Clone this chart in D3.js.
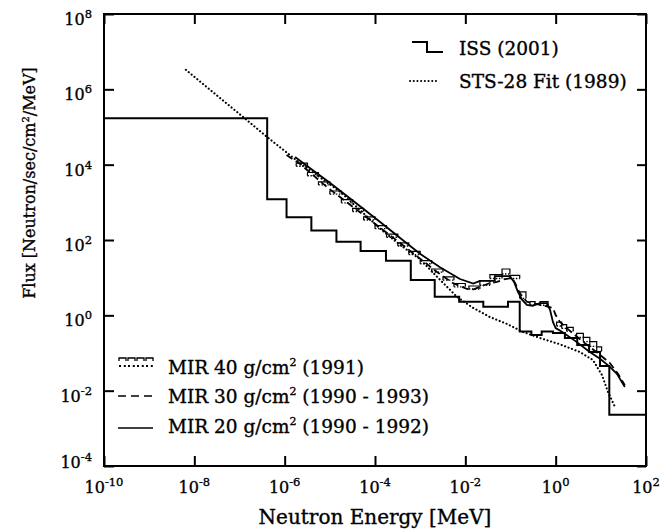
<!DOCTYPE html>
<html>
<head>
<meta charset="utf-8">
<script src="https://cdn.jsdelivr.net/npm/d3@7"></script>
<style>
  body { margin: 0; background: #fff; }
  text { font-family: "DejaVu Serif", serif; fill: #000; stroke: #000; stroke-width: 0.35px; }
</style>
</head>
<body>
<div id="chart"></div>
<script>
// tick labels (powers of ten)
const xTickExps = [-10, -8, -6, -4, -2, 0, 2];
const yTickExps = [-4, -2, 0, 2, 4, 6, 8];

// ISS (2001) histogram: bin edges [MeV] and flux per bin
const issEdges = [1e-10, 4.1e-7, 1.1e-6, 3.9e-6, 1.4e-5, 4.8e-5, 1.75e-4, 6.2e-4, 2.1e-3, 7.3e-3,
  2.5e-2, 8.8e-2, 0.16, 0.29, 0.49, 0.87, 1.6, 3.0, 5.5, 9.6, 15.4, 100];
const issFlux = [1.7e5, 1.2e3, 4.0e2, 1.8e2, 90, 51, 28, 8.7, 3.1, 2.3,
  1.7, 2.3, 0.37, 0.30, 0.37, 0.34, 0.25, 0.163, 0.106, 0.045, 2.3e-3];

// STS-28 fit (1989)
const stsEnergy = [6.5e-9, 3.7e-8, 1.2e-7, 4.1e-7, 2.2e-6, 1.7e-5, 1.3e-4, 3.6e-4, 9.9e-4, 2.4e-3,
  6.5e-3, 1.5e-2, 3.5e-2, 8.4e-2, 0.19, 0.45, 1.24, 3.45, 6.7, 10.6, 14.4, 20.6];
const stsFlux = [3.3e6, 5.9e5, 1.85e5, 5.4e4, 1.1e4, 1.9e3, 2.0e2, 74, 31, 10.4,
  3.1, 1.57, 0.90, 0.59, 0.36, 0.25, 0.17, 0.106, 0.065, 0.026, 9.2e-3, 3.7e-3];

// MIR 20 g/cm2 (1990 - 1992)
const mir20Energy = [1.7e-6, 3.6e-6, 1.0e-5, 3.6e-5, 1.3e-4, 3.6e-4, 9.9e-4, 2.75e-3, 7.6e-3, 1.5e-2,
  2.1e-2, 0.045, 0.045, 0.097, 0.12, 0.146, 0.18, 0.23, 0.31, 0.45,
  0.64, 0.75, 0.87, 1.0, 1.4, 2.7, 5.7, 9.6, 15.9, 22.7, 34];
const mir20Flux = [1.6e4, 8.2e3, 3.3e3, 1.0e3, 3.0e2, 1.13e2, 43, 19, 9.2, 7.0,
  8.2, 8.2, 11, 11, 7.7, 4.2, 2.6, 1.9, 1.8, 2.1,
  2.1, 1.4, 0.67, 0.46, 0.36, 0.21, 0.106, 0.070, 0.043, 0.028, 0.0125];

// MIR 30 g/cm2 (1990 - 1993)
const mir30Energy = [1.1e-6, 2.2e-6, 8.6e-6, 4.6e-5, 3.6e-4, 2.4e-3, 5.3e-3, 7.6e-3, 1.09e-2, 1.4e-2,
  2.1e-2, 3.5e-2, 5.0e-2, 7.5e-2, 0.108, 0.126, 0.16, 0.23, 0.45, 0.87,
  1.0, 1.24, 2.1, 4.5, 9.6, 15.9, 24, 34];
const mir30Flux = [1.8e4, 1.04e4, 2.55e3, 5.5e2, 83, 14, 7.2, 6.0, 5.0, 4.7,
  5.7, 7.2, 7.7, 9.2, 9.8, 7.2, 3.9, 2.3, 1.9, 1.57,
  1.02, 0.67, 0.38, 0.18, 0.089, 0.054, 0.028, 0.014];

// MIR 40 g/cm2 (1991): error boxes, energy bin low/high and flux min/max
const mir40ELow = [1.8e-6, 3.2e-6, 5.6e-6, 1e-5, 1.8e-5, 3.2e-5, 5.6e-5, 1e-4, 1.8e-4, 3.2e-4,
  5.6e-4, 1e-3, 1.8e-3, 3.2e-3, 5.6e-3, 1.2e-2, 2.1e-2, 3.5e-2, 6.5e-2, 0.097,
  0.16, 0.27, 0.45, 1.05, 1.36, 1.75, 2.9, 4.1, 5.7, 8.1];
const mir40EHigh = [3.2e-6, 5.6e-6, 1e-5, 1.8e-5, 3.2e-5, 5.6e-5, 1e-4, 1.8e-4, 3.2e-4, 5.6e-4,
  1e-3, 1.8e-3, 3.2e-3, 5.6e-3, 1e-2, 2.1e-2, 3.5e-2, 6.5e-2, 0.097, 0.16,
  0.22, 0.35, 0.68, 1.36, 1.75, 2.45, 4.1, 5.7, 8.1, 10.4];
const mir40FMin = [9.1e3, 5.1e3, 2.9e3, 1.65e3, 970, 570, 340, 200, 118, 69,
  41, 23.5, 14, 8.6, 5.7, 5.0, 6.3, 9.5, 12.5, 9.5,
  2.8, 1.9, 1.85, 0.52, 0.45, 0.38, 0.26, 0.2, 0.15, 0.11];
const mir40FMax = [1.1e4, 6.2e3, 3.5e3, 2.0e3, 1.18e3, 690, 410, 240, 143, 84,
  50, 28.5, 17, 10.5, 7.0, 6.0, 8.3, 12, 17, 11.5,
  4.2, 2.3, 2.3, 0.66, 0.57, 0.48, 0.33, 0.26, 0.2, 0.145];

const width = 664, height = 531;
const margin = {top: 14, right: 18, bottom: 65, left: 104};

const svg = d3.select('#chart').append('svg')
  .attr('width', width)
  .attr('height', height);

const x = d3.scaleLog().domain([1e-10, 1e2]).range([margin.left, width - margin.right]);
const y = d3.scaleLog().domain([1e-4, 1e8]).range([height - margin.bottom, margin.top]);

const xTickVals = xTickExps.map(e => Math.pow(10, e));
const yTickVals = yTickExps.map(e => Math.pow(10, e));

// axes: inward ticks on all four sides
function addAxis(axis, transform) {
  svg.append('g')
    .attr('transform', transform)
    .call(axis)
    .call(g => g.select('.domain').remove())
    .call(g => g.selectAll('.tick line').attr('stroke', '#000').attr('stroke-width', 2))
    .call(g => g.selectAll('.tick text').remove());
}
addAxis(d3.axisBottom(x).tickValues(xTickVals).tickSize(-10), `translate(0,${y.range()[0]})`);
addAxis(d3.axisTop(x).tickValues(xTickVals).tickSize(-10), `translate(0,${y.range()[1]})`);
addAxis(d3.axisLeft(y).tickValues(yTickVals).tickSize(-10), `translate(${x.range()[0]},0)`);
addAxis(d3.axisRight(y).tickValues(yTickVals).tickSize(-9), `translate(${x.range()[1]},0)`);

svg.append('rect')
  .attr('x', x.range()[0])
  .attr('y', y.range()[1])
  .attr('width', x.range()[1] - x.range()[0])
  .attr('height', y.range()[0] - y.range()[1])
  .attr('fill', 'none')
  .attr('stroke', '#000')
  .attr('stroke-width', 2);

// tick labels with superscript exponents
function powerLabel(sel, e, size, supSize, raise) {
  sel.append('tspan').attr('font-size', size).text('10');
  sel.append('tspan').attr('font-size', supSize).attr('dy', -raise).text(e);
}

svg.append('g').selectAll('text')
  .data(xTickExps)
  .join('text')
  .attr('x', d => x(Math.pow(10, d)))
  .attr('y', 493)
  .attr('text-anchor', 'middle')
  .each(function(d) { powerLabel(d3.select(this), d, 16, 11.5, 7); });

svg.append('g').selectAll('text')
  .data(yTickExps)
  .join('text')
  .attr('x', 92)
  .attr('y', d => d === yTickExps[0] ? y(Math.pow(10, d)) + 2 : y(Math.pow(10, d)) + 11)
  .attr('text-anchor', 'end')
  .each(function(d) { powerLabel(d3.select(this), d, 16, 11.5, 7); });

// axis titles
svg.append('text')
  .attr('x', (x.range()[0] + x.range()[1]) / 2)
  .attr('y', 524)
  .attr('text-anchor', 'middle')
  .attr('font-size', 20)
  .text('Neutron Energy [MeV]');

const yTitle = svg.append('text')
  .attr('transform', 'translate(35,183) rotate(-90)')
  .attr('text-anchor', 'middle')
  .attr('font-size', 16);
yTitle.append('tspan').text('Flux [Neutron/sec/cm');
yTitle.append('tspan').attr('font-size', 10).attr('dy', -6).text('2');
yTitle.append('tspan').attr('dy', 6).text('/MeV]');

// data
const line = d3.line().x(d => x(d[0])).y(d => y(d[1]));
const plot = svg.append('g').attr('fill', 'none').attr('stroke', '#000');

const issPoints = [];
issFlux.forEach((f, i) => {
  issPoints.push([issEdges[i], f]);
  issPoints.push([issEdges[i + 1], f]);
});
plot.append('path')
  .attr('d', line(issPoints))
  .attr('stroke-width', 2);

plot.append('path')
  .attr('d', line(stsEnergy.map((e, i) => [e, stsFlux[i]])))
  .attr('stroke-width', 2.1)
  .attr('stroke-linecap', 'round')
  .attr('stroke-dasharray', '0.1,3.6');

plot.append('path')
  .attr('d', line(mir20Energy.map((e, i) => [e, mir20Flux[i]])))
  .attr('stroke-width', 1.8);

plot.append('path')
  .attr('d', line(mir30Energy.map((e, i) => [e, mir30Flux[i]])))
  .attr('stroke-width', 1.8)
  .attr('stroke-dasharray', '7,4');

const boxes = mir40ELow.map((e, i) => ({e0: e, e1: mir40EHigh[i], f0: mir40FMin[i], f1: mir40FMax[i]}));
const boxG = plot.append('g').selectAll('g').data(boxes).join('g');
boxG.append('path')
  .attr('d', d => `M${x(d.e0)},${y(d.f0)}V${y(d.f1)}H${x(d.e1)}V${y(d.f0)}`)
  .attr('stroke-width', 1.2);
boxG.append('path')
  .attr('d', d => `M${x(d.e0)},${y(d.f0)}H${x(d.e1)}`)
  .attr('stroke-width', 1.4)
  .attr('stroke-dasharray', '1.4,1.6');

// legends
const legend = svg.append('g').attr('fill', 'none').attr('stroke', '#000');
legend.append('path').attr('d', 'M412,42H427V52H443').attr('stroke-width', 2);
legend.append('path').attr('d', 'M410,81H436').attr('stroke-width', 2)
  .attr('stroke-linecap', 'round').attr('stroke-dasharray', '0.1,3.6');

for (let i = 0; i < 4; i++) {
  const bx = 119 + i * 9;
  legend.append('path').attr('d', `M${bx},361V358H${bx + 7}V361`).attr('stroke-width', 1.3);
  legend.append('path').attr('d', `M${bx},366H${bx + 7}`).attr('stroke-width', 2.2)
    .attr('stroke-dasharray', '2,2.8');
}
legend.append('path').attr('d', 'M118,396H153').attr('stroke-width', 1.7).attr('stroke-dasharray', '8,5');
legend.append('path').attr('d', 'M118,428H153').attr('stroke-width', 1.7);

function legendText(xPos, yPos, parts) {
  const t = svg.append('text').attr('x', xPos).attr('y', yPos).attr('font-size', 18.5);
  t.append('tspan').text(parts[0]);
  if (parts.length > 1) {
    t.append('tspan').attr('font-size', 11).attr('dy', -8).text('2');
    t.append('tspan').attr('dy', 8).text(parts[1]);
  }
}
legendText(459, 55, ['ISS (2001)']);
legendText(459, 88, ['STS-28 Fit (1989)']);
legendText(168, 374, ['MIR 40 g/cm', ' (1991)']);
legendText(168, 403, ['MIR 30 g/cm', ' (1990 - 1993)']);
legendText(168, 433, ['MIR 20 g/cm', ' (1990 - 1992)']);
</script>
</body>
</html>
